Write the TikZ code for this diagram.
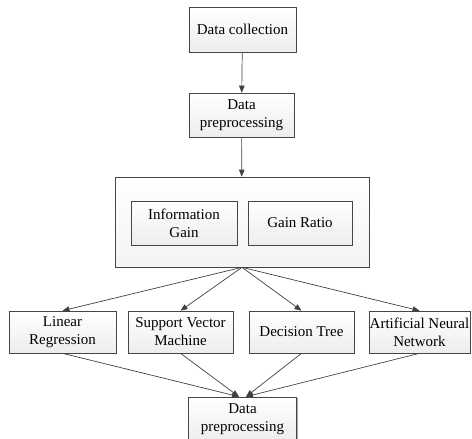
\documentclass[tikz,border=0pt]{standalone}
\usepackage{fontspec}
\setmainfont{Liberation Serif}
\usetikzlibrary{arrows.meta,shadows}
\tikzset{
  box/.style={draw=gray!55!black, line width=.6pt, top color=white, bottom color=gray!14,
    drop shadow={shadow xshift=1.3pt, shadow yshift=-1.3pt, fill=gray!75, opacity=.9},
    align=center, inner xsep=0pt, inner ysep=0pt,
    font=\fontsize{15}{18}\selectfont},
  link/.style={draw=black!75, line width=.7pt, -{Triangle[length=7pt,width=5.5pt]}}
}
\begin{document}
\begin{tikzpicture}[x=1pt,y=-1pt]
\useasboundingbox (0,0) rectangle (472,439);
% pipeline
\node[box, minimum width=107pt, minimum height=45pt] (coll) at (242.5,29.5) {Data collection};
\node[box, minimum width=105pt, minimum height=44pt] (prep) at (241.5,115) {Data\\preprocessing};
% feature selection
\node[box, top color=white, bottom color=gray!9, minimum width=254pt, minimum height=90pt] (fsel) at (242,222) {};
\node[box, minimum width=106pt, minimum height=44pt] (ig) at (184,223) {Information\\Gain};
\node[box, minimum width=104pt, minimum height=44pt] (gr) at (300,223) {Gain Ratio};
% models
\node[box, minimum width=107pt, minimum height=42pt] (lr) at (62.5,332) {Linear\\Regression};
\node[box, minimum width=105pt, minimum height=42pt] (svm) at (180.5,332) {Support Vector\\Machine};
\node[box, minimum width=105pt, minimum height=42pt] (dt) at (301.5,332) {Decision Tree};
\node[box, minimum width=101pt, minimum height=42pt] (ann) at (419.5,332) {\makebox[0pt]{Artificial Neural}\\Network};
\node[box, minimum width=108pt, minimum height=44pt] (fin) at (242.5,419) {Data\\preprocessing};

\draw[link] (coll) -- (prep);
\draw[link] (prep) -- (fsel);
\draw[link] (fsel.south) -- (lr.north);
\draw[link] (fsel.south) -- (svm.north);
\draw[link] (fsel.south) -- (dt.north);
\draw[link] (fsel.south) -- (ann.north);
\draw[link] (lr.south) -- ([xshift=-3.5pt]fin.north);
\draw[link] (svm.south) -- ([xshift=-3.5pt]fin.north);
\draw[link] (dt.south) -- ([xshift=3.5pt]fin.north);
\draw[link] (ann.south) -- ([xshift=3.5pt]fin.north);
\end{tikzpicture}
\end{document}
